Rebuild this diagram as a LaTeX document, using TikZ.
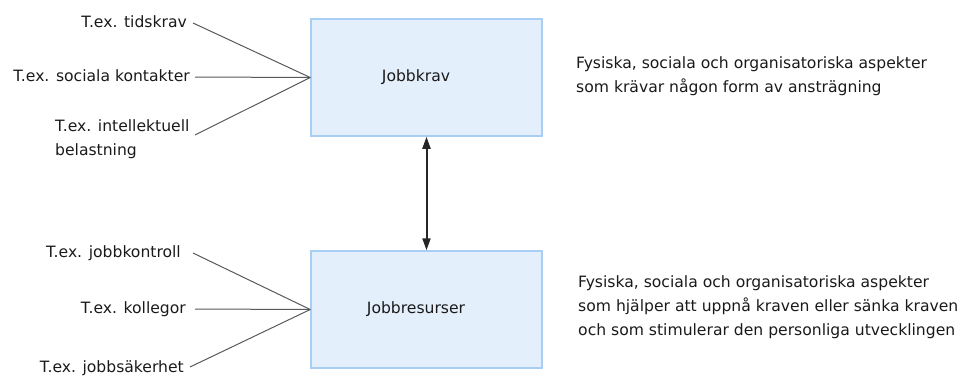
\documentclass[tikz,border=0pt]{standalone}
\usepackage{fontspec}
\setmainfont{DejaVu Sans}
\usetikzlibrary{arrows.meta}
\definecolor{boxfill}{HTML}{E4EFFC}
\definecolor{boxline}{HTML}{A9CEF4}
\definecolor{linegray}{HTML}{595959}
\definecolor{txt}{HTML}{1A1A1A}
\begin{document}
\begin{tikzpicture}[x=1pt,y=-1pt,
  font=\fontsize{15.6}{24}\selectfont,
  mainbox/.style={draw=boxline,line width=1.5pt,fill=boxfill,minimum width=231pt,minimum height=117pt,inner sep=0pt},
  lbl/.style={inner sep=0pt,text=txt},
  feeder/.style={draw=linegray,line width=1pt},
  link/.style={draw=black!85,line width=2pt,{Triangle[length=12pt,width=8pt]}-{Triangle[length=12pt,width=8pt]}}]
\useasboundingbox (0,0) rectangle (962,376);
% boxes
\node[mainbox] (krav) at (426.5,77.5) {};
\node[mainbox] (res) at (426.5,309.5) {};
\node[lbl] (kravtext) at (416,77.5) {Jobbkrav};
\node[lbl] (restext) at (416,309.5) {Jobbresurser};
% arrow
\draw[link] (krav.south) -- (res.north);
% demand labels
\node[lbl,anchor=base east] (t1) at (187,27) {T.ex. tidskrav};
\node[lbl,anchor=base east] (t2) at (190,81) {T.ex. sociala kontakter};
\node[lbl,anchor=base west,align=left] (t3) at (55,155) {T.ex. intellektuell\\belastning};
\coordinate (c1) at (193,23);
\coordinate (c2) at (195,77);
\coordinate (c3) at (195,135);
\draw[feeder] (c1) -- (krav.west);
\draw[feeder] (c2) -- (krav.west);
\draw[feeder] (c3) -- (krav.west);
% resource labels
\node[lbl,anchor=base east] (r1) at (181,257) {T.ex. jobbkontroll};
\node[lbl,anchor=base east] (r2) at (186,313) {T.ex. kollegor};
\node[lbl,anchor=base east] (r3) at (184,372) {T.ex. jobbsäkerhet};
\coordinate (d1) at (193,253);
\coordinate (d2) at (195,309);
\coordinate (d3) at (190,367);
\draw[feeder] (d1) -- (res.west);
\draw[feeder] (d2) -- (res.west);
\draw[feeder] (d3) -- (res.west);
% descriptions
\node[lbl,anchor=base west,align=left] (desc1) at (576,92) {Fysiska, sociala och organisatoriska aspekter\\som krävar någon form av ansträgning};
\node[lbl,anchor=base west,align=left] (desc2) at (578,335) {Fysiska, sociala och organisatoriska aspekter\\som hjälper att uppnå kraven eller sänka kraven\\och som stimulerar den personliga utvecklingen};
\end{tikzpicture}
\end{document}
